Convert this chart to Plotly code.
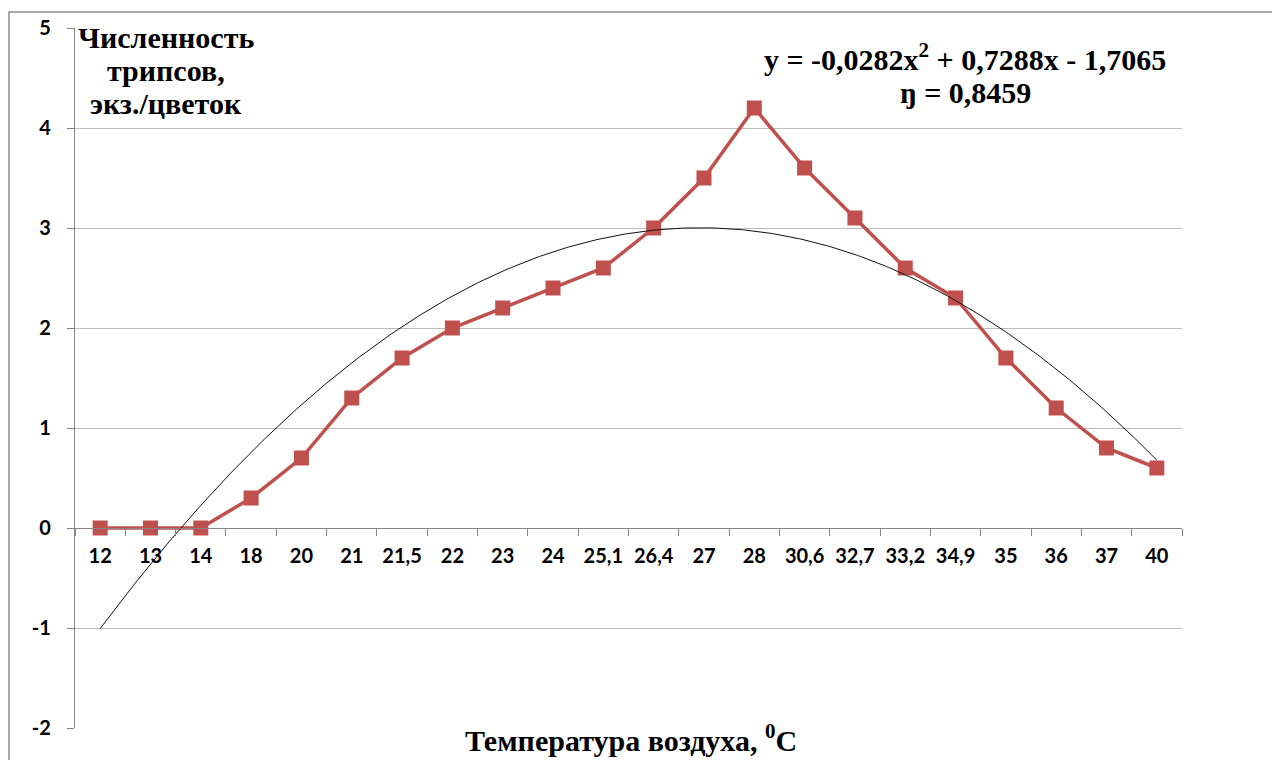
import numpy as np
import plotly.graph_objects as go

# Air temperature categories (°C) and thrips counts per flower
temperature_labels = ["12", "13", "14", "18", "20", "21", "21,5", "22", "23", "24",
                      "25,1", "26,4", "27", "28", "30,6", "32,7", "33,2", "34,9",
                      "35", "36", "37", "40"]
thrips_counts = [0, 0, 0, 0.3, 0.7, 1.3, 1.7, 2.0, 2.2, 2.4, 2.6, 3.0, 3.5, 4.2,
                 3.6, 3.1, 2.6, 2.3, 1.7, 1.2, 0.8, 0.6]
y_ticks = [-2, -1, 0, 1, 2, 3, 4, 5]
y_tick_labels = ["-2", "-1", "0", "1", "2", "3", "4", "5"]

# Polynomial trend (category index x = 1..n), as shown in the equation
trend_coefs = [-0.0282, 0.7288, -1.7065]
trend_text = ["y = -0,0282x<sup>2</sup> + 0,7288x - 1,7065", "ŋ = 0,8459"]
y_title = ["Численность", "трипсов,", "экз./цветок"]
x_title = "Температура воздуха, <sup>0</sup>C"

n = len(temperature_labels)
t = np.linspace(0, n - 1, 400)
xi = t + 1
trend_y = trend_coefs[0] * xi ** 2 + trend_coefs[1] * xi + trend_coefs[2]

RED = "#c0504d"
AXIS = "#868686"
GRID = "#bcbcbc"
SERIF = "Liberation Serif"
SANS = "Lato"
TITLE_SIZE = 30

fig = go.Figure()

fig.add_trace(go.Scatter(
    x=temperature_labels, y=thrips_counts, mode="lines+markers",
    line=dict(color=RED, width=3.5),
    marker=dict(symbol="square", size=15, color=RED, line=dict(color=RED, width=0)),
    xaxis="x", yaxis="y", showlegend=False, hoverinfo="skip",
))

fig.add_trace(go.Scatter(
    x=t, y=trend_y, mode="lines",
    line=dict(color="#111111", width=1),
    xaxis="x2", yaxis="y", showlegend=False, hoverinfo="skip",
))

L, R, T, B = 75, 90, 28, 32
W, H = 1272, 760
pw, ph = W - L - R, H - T - B

def px_x(p):
    return (p - L) / pw

def px_y(p):
    return (H - B - p) / ph

fig.update_layout(
    width=W, height=H,
    margin=dict(l=L, r=R, t=T, b=B),
    paper_bgcolor="white", plot_bgcolor="white",
    xaxis=dict(
        type="category", range=[-0.5, n - 0.5],
        anchor="free", position=2 / 7,
        showline=True, linecolor=AXIS, linewidth=1.3,
        ticks="outside", tickson="boundaries", ticklen=7, tickcolor=AXIS, tickwidth=1,
        showgrid=False, zeroline=False, tickangle=0,
        tickfont=dict(family=SANS, size=20, color="black", weight="bold"),
        ticklabelstandoff=10,
    ),
    xaxis2=dict(
        type="linear", range=[-0.5, n - 0.5], overlaying="x", anchor="y",
        visible=False,
    ),
    yaxis=dict(
        range=[-2, 5], tickmode="array", tickvals=y_ticks, ticktext=y_tick_labels,
        showline=True, linecolor=AXIS, linewidth=1.3,
        ticks="outside", ticklen=7, tickcolor=AXIS, tickwidth=1,
        showgrid=True, gridcolor=GRID, gridwidth=1.3, zeroline=False,
        tickfont=dict(family=SANS, size=20, color="black", weight="bold"),
        ticklabelstandoff=12,
    ),
    font=dict(family=SERIF, color="black"),
)


def add_text(text, x_px, y_px):
    fig.add_annotation(
        text=f"<b>{text}</b>", xref="paper", yref="paper",
        x=px_x(x_px), y=px_y(y_px), xanchor="center", yanchor="middle",
        showarrow=False, align="center",
        font=dict(family=SERIF, size=TITLE_SIZE, color="black"),
    )


# Y-axis title, one line at a time
for line, yc in zip(y_title, [38, 71, 104]):
    add_text(line, 166, yc)

# Trend equation and coefficient
for line, yc in zip(trend_text, [57, 92]):
    add_text(line, 965, yc)

# X-axis title
add_text(x_title, 631, 738)

# Chart area frame
fig.add_shape(
    type="rect", xref="paper", yref="paper",
    x0=px_x(9), x1=px_x(1300), y0=px_y(790), y1=px_y(12),
    line=dict(color="#8c8c8c", width=1.5), fillcolor="rgba(0,0,0,0)", layer="below",
)

fig.write_html("out.html")
